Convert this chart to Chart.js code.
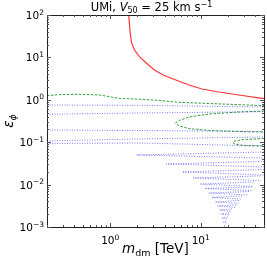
<!DOCTYPE html>
<html>
<head>
<meta charset="utf-8">
<script src="https://cdn.jsdelivr.net/npm/chart.js@4"></script>
<style>
  body { margin: 0; background: #fff; }
  #chartContainer { display: block; }
</style>
</head>
<body>
<canvas id="chartContainer" width="267" height="260"></canvas>
<script>
// red curve (solid)
var redM = [1.60, 1.65, 1.71, 1.85, 2.10, 2.50, 3.07, 3.95, 5.31, 7.43, 10.3, 15.9, 26.4, 50];
var redEps = [100, 44.3, 23.1, 14.9, 10.4, 7.38, 5.05, 3.74, 2.93, 2.23, 1.80, 1.53, 1.30, 1.07];

// green dashed curves
var greenTopM = [0.2, 0.277, 0.46, 0.763, 1.26, 2.10, 3.48, 5.77, 15.9, 50];
var greenTopEps = [1.25, 1.33, 1.35, 1.30, 1.08, 1.03, 0.97, 0.87, 0.80, 0.73];
var greenMidM = [50, 26.4, 12.3, 7.43, 5.78, 5.28, 5.78, 7.43, 12.3, 26.4, 50];
var greenMidEps = [0.544, 0.515, 0.462, 0.393, 0.325, 0.284, 0.241, 0.210, 0.189, 0.179, 0.174];
var greenLowM = [50, 29.9, 23.8, 22.6, 23.8, 29.9, 50];
var greenLowEps = [0.122, 0.116, 0.107, 0.098, 0.0907, 0.0836, 0.0813];

// blue dotted lines crossing the whole range (value at m = 0.2, 2, 50)
var blueLineM = [0.2, 2, 50];
var blueLeft = [0.754, 0.455, 0.194, 0.107, 0.0932];
var blueMid = [0.74, 0.488, 0.189, 0.119, 0.096];
var blueRight = [0.678, 0.524, 0.179, 0.133, 0.0813];

// blue dotted hairpins: tip on the left, two branches to the right end
var hpTipM = [1.95, 4.15, 6.23, 8.23, 9.83, 11.1, 12.3, 13.3, 14.4, 15.3, 16.1, 16.7, 17.1, 17.6, 18.0];
var hpTipEps = [0.0499, 0.0306, 0.0198, 0.0143, 0.0103, 0.00809, 0.00634, 0.00497, 0.00389, 0.00313, 0.00252, 0.00203, 0.00163, 0.00131, 0.00100];
var hpEndM = [50, 50, 50, 46, 38.5, 36.6, 34.0, 28.4, 26.4, 24.4, 22.1, 20.5, 19.9, 19.0, 18.5];
var hpUpEps = [0.0587, 0.0351, 0.0227, 0.0160, 0.0115, 0.00878, 0.00688, 0.00538, 0.00422, 0.00330, 0.00266, 0.00214, 0.00172, 0.00139, 0.00112];
var hpLowEps = [0.0424, 0.0260, 0.0168, 0.0125, 0.00901, 0.00726, 0.00569, 0.00457, 0.00358, 0.00288, 0.00232, 0.00192, 0.00155, 0.00124, 0.00102];

var xTicks = [1, 10];
var xTickExp = ["0", "1"];
var yTicks = [100, 10, 1, 0.1, 0.01, 0.001];
var yTickExp = ["2", "1", "0", "\u22121", "\u22122", "\u22123"];

var FONT = "'DejaVu Sans', sans-serif";
var BLUE = "rgba(50,50,255,0.65)";
var GREEN = "rgba(20,140,20,0.85)";
var RED = "rgba(255,30,30,0.9)";

function pts(xs, ys) {
  var out = [];
  for (var i = 0; i < xs.length; i++) out.push({ x: xs[i], y: ys[i] });
  return out;
}

var datasets = [];
for (var i = 0; i < blueLeft.length; i++) {
  datasets.push({
    data: pts(blueLineM, [blueLeft[i], blueMid[i], blueRight[i]]),
    borderColor: BLUE, borderWidth: 1, borderDash: [1, 1.5]
  });
}
for (var i = 0; i < hpTipM.length; i++) {
  datasets.push({
    data: pts([hpEndM[i], hpTipM[i], hpEndM[i]], [hpUpEps[i], hpTipEps[i], hpLowEps[i]]),
    borderColor: BLUE, borderWidth: 1, borderDash: [1, 1.5]
  });
}
[[greenTopM, greenTopEps], [greenMidM, greenMidEps], [greenLowM, greenLowEps]].forEach(function (g) {
  datasets.push({ data: pts(g[0], g[1]), borderColor: GREEN, borderWidth: 1, borderDash: [2.5, 1.5] });
});
datasets.push({ data: pts(redM, redEps), borderColor: RED, borderWidth: 1.2 });

datasets.forEach(function (d) {
  d.showLine = true;
  d.pointRadius = 0;
  d.tension = 0;
  d.fill = false;
});

// draw text made of pieces (base, sub, sup), returns width
function drawParts(ctx, parts, x, y, align) {
  var w = 0;
  parts.forEach(function (p) {
    ctx.font = (p.italic ? "italic " : "") + p.size + "px " + FONT;
    p.w = ctx.measureText(p.t).width;
    w += p.w;
  });
  var cx = x;
  if (align === "center") cx = x - w / 2;
  if (align === "right") cx = x - w;
  ctx.textAlign = "left";
  ctx.textBaseline = "alphabetic";
  parts.forEach(function (p) {
    ctx.font = (p.italic ? "italic " : "") + p.size + "px " + FONT;
    ctx.fillText(p.t, cx, y + (p.dy || 0));
    cx += p.w;
  });
  return w;
}

var framePlugin = {
  id: "frame",
  afterDraw: function (chart) {
    var ctx = chart.ctx;
    var a = chart.chartArea;
    var xs = chart.scales.x, ys = chart.scales.y;
    ctx.save();
    ctx.strokeStyle = "#222";
    ctx.fillStyle = "#000";
    ctx.lineWidth = 1;
    ctx.strokeRect(Math.round(a.left) + 0.5, Math.round(a.top) + 0.5, Math.round(a.right - a.left), Math.round(a.bottom - a.top));

    ctx.strokeStyle = "#555";
    ctx.beginPath();
    // x ticks (major + minor), inward on bottom and top
    for (var d = -1; d <= 1; d++) {
      for (var k = 1; k <= 9; k++) {
        var v = k * Math.pow(10, d);
        if (v < xs.min || v > xs.max) continue;
        var px = Math.round(xs.getPixelForValue(v)) + 0.5;
        var len = k === 1 ? 4 : 2;
        ctx.moveTo(px, a.bottom); ctx.lineTo(px, a.bottom - len);
        ctx.moveTo(px, a.top); ctx.lineTo(px, a.top + len);
      }
    }
    // y ticks
    for (var d = -3; d <= 2; d++) {
      for (var k = 1; k <= 9; k++) {
        var v = k * Math.pow(10, d);
        if (v < ys.min * 0.999 || v > ys.max * 1.001) continue;
        var py = Math.round(ys.getPixelForValue(v)) + 0.5;
        var len = k === 1 ? 4 : 2;
        ctx.moveTo(a.left, py); ctx.lineTo(a.left + len, py);
        ctx.moveTo(a.right, py); ctx.lineTo(a.right - len, py);
      }
    }
    ctx.stroke();

    // tick labels
    ctx.fillStyle = "#000";
    for (var i = 0; i < yTicks.length; i++) {
      var py = ys.getPixelForValue(yTicks[i]);
      drawParts(ctx, [{ t: "10", size: 10.5 }, { t: yTickExp[i], size: 7.5, dy: -4.5 }], a.left - 3, py + 4, "right");
    }
    for (var i = 0; i < xTicks.length; i++) {
      var px = xs.getPixelForValue(xTicks[i]);
      drawParts(ctx, [{ t: "10", size: 10.5 }, { t: xTickExp[i], size: 7.5, dy: -4.5 }], px, a.bottom + 17, "center");
    }

    // title
    var cx = (a.left + a.right) / 2;
    drawParts(ctx, [
      { t: "UMi, ", size: 11.5 },
      { t: "V", size: 11.5, italic: true },
      { t: "50", size: 8, dy: 2 },
      { t: " = 25 km s", size: 11.5 },
      { t: "\u22121", size: 8, dy: -4.5 }
    ], cx - 4, a.top - 4, "center");

    // x label
    drawParts(ctx, [
      { t: "m", size: 13.5, italic: true },
      { t: "dm", size: 9.5, dy: 2.5 },
      { t: " [TeV]", size: 13.5 }
    ], cx, 253, "center");

    // y label
    ctx.translate(13, (a.top + a.bottom) / 2);
    ctx.rotate(-Math.PI / 2);
    drawParts(ctx, [
      { t: "\u03b5", size: 13.5, italic: true },
      { t: "\u03d5", size: 9.5, italic: true, dy: 2.5 }
    ], 0, 0, "center");
    ctx.restore();
  }
};

var ctx1 = document.getElementById("chartContainer").getContext("2d");
var myChart = new Chart(ctx1, {
  type: "scatter",
  data: { datasets: datasets },
  options: {
    responsive: false,
    animation: false,
    events: [],
    layout: { padding: { left: 47, right: 3, top: 15, bottom: 33 } },
    plugins: { legend: { display: false }, tooltip: { enabled: false }, title: { display: false } },
    scales: {
      x: { type: "logarithmic", min: 0.2, max: 50, display: false },
      y: { type: "logarithmic", min: 0.001, max: 100, display: false }
    }
  },
  plugins: [framePlugin]
});
</script>
</body>
</html>
